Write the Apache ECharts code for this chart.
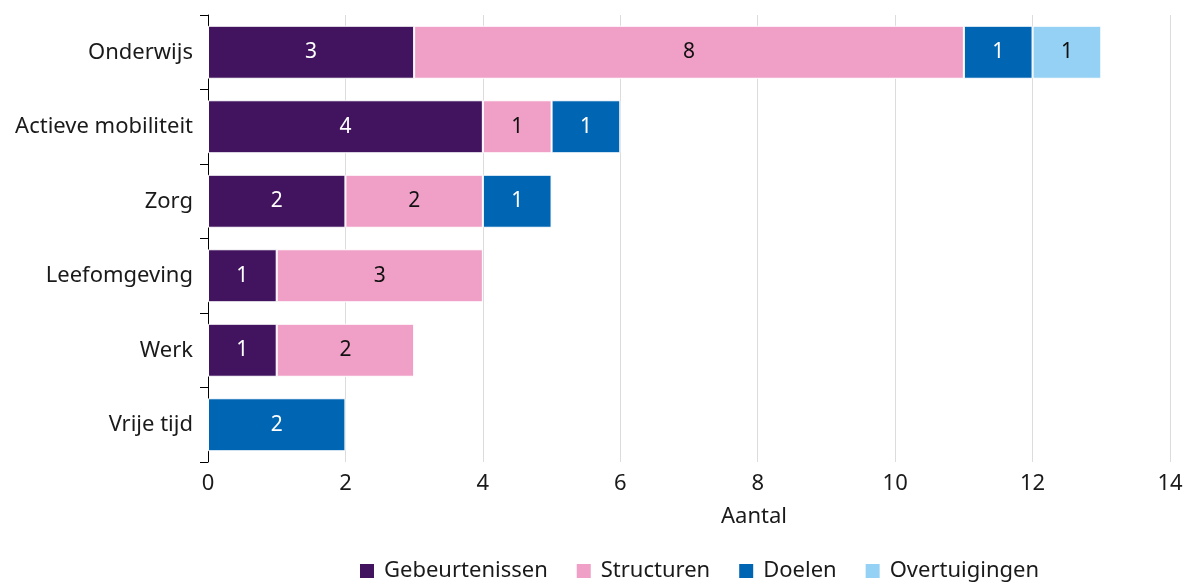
<!DOCTYPE html>
<html><head><meta charset="utf-8">
<script src="https://cdn.jsdelivr.net/npm/echarts@6/dist/echarts.min.js"></script>
<style>html,body{margin:0;padding:0;background:#fff}#c{width:1186px;height:582px}</style>
</head><body><div id="c"></div>
<script>
const categories = ['Onderwijs','Actieve mobiliteit','Zorg','Leefomgeving','Werk','Vrije tijd'];
const gebeurtenissen = [3,4,2,1,1,null];
const structuren = [8,1,2,3,2,null];
const doelen = [1,1,1,null,null,2];
const overtuigingen = [1,null,null,null,null,null];
const xTicks = [0,2,4,6,8,10,12,14];

const font = '"Noto Sans", sans-serif';
function s(name, data, color, labelColor){
  return {name, type:'bar', stack:'t', data, barWidth:53,
    itemStyle:{color, borderColor:'#fff', borderWidth:1},
    label:{show:true, position:'inside', color:labelColor, fontSize:21, fontFamily:font, padding:[3,0,0,0]},
    emphasis:{disabled:true}};
}
const chart = echarts.init(document.getElementById('c'));
chart.setOption({
  animation:false,
  textStyle:{fontFamily:font},
  grid:{left:208, right:16, top:15, bottom:120, containLabel:false},
  xAxis:{type:'value', min:0, max:14, interval:2,
    axisLine:{show:false}, axisTick:{show:false},
    axisLabel:{fontSize:22, color:'#1a1a1a', margin:11, fontFamily:font, formatter:v=>xTicks.includes(v)?String(v):''},
    splitLine:{lineStyle:{color:'#dcdcdc', width:1}}},
  yAxis:{type:'category', data:categories, inverse:true,
    axisLine:{lineStyle:{color:'#000', width:1}},
    axisTick:{show:true, length:8, lineStyle:{color:'#000'}},
    axisLabel:{fontSize:22, color:'#1a1a1a', margin:15, fontFamily:font, padding:[4,0,0,0]}},
  legend:{top:555, left:353, itemWidth:16, itemHeight:16, icon:'rect', itemGap:27,
    textStyle:{fontSize:22, color:'#1a1a1a', fontFamily:font, padding:[0,0,0,4]}},
  graphic:[{type:'text', left:721, top:506, style:{text:'Aantal', fontSize:22, fill:'#1a1a1a', fontFamily:font}}],
  series:[
    s('Gebeurtenissen', gebeurtenissen, '#42145f', '#fff'),
    s('Structuren', structuren, '#f09fc6', '#111'),
    s('Doelen', doelen, '#0066b3', '#fff'),
    s('Overtuigingen', overtuigingen, '#94d1f4', '#111')
  ]
});
</script></body></html>
